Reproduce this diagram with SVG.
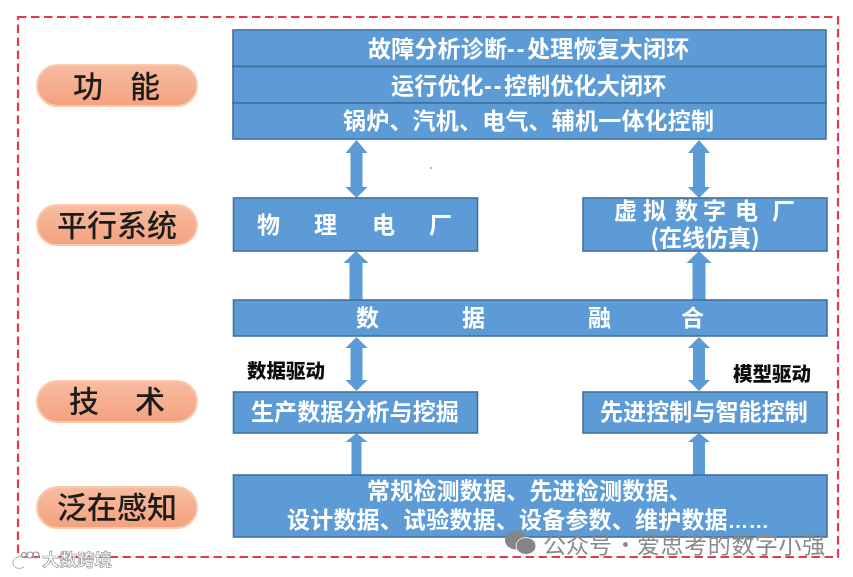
<svg xmlns="http://www.w3.org/2000/svg" width="853" height="577" viewBox="0 0 853 577">
<style>
.box{fill:#5b9bd5;stroke:#41719c;stroke-width:1.6}
.pill{fill:url(#pg);stroke:#f8cbad;stroke-width:2}
.t{font-family:"Noto Sans CJK SC","Liberation Sans",sans-serif;font-size:23px;font-weight:700;fill:#fff}
.p{font-family:"Noto Sans CJK SC",sans-serif;font-size:30px;font-weight:500;fill:#1a1a1a}
.l{font-family:"Noto Sans CJK SC",sans-serif;font-size:19.5px;font-weight:900;fill:#111}
.arr{fill:#5b9bd5}
.m{text-anchor:middle}
</style>
<defs>
<linearGradient id="pg" x1="0" y1="0" x2="0" y2="1"><stop offset="0" stop-color="#f7bca1"/><stop offset="1" stop-color="#f4a17f"/></linearGradient>
<filter id="soft" x="-5%" y="-5%" width="110%" height="110%"><feGaussianBlur stdDeviation="0.45"/></filter>
</defs>
<rect width="853" height="577" fill="#fff"/>
<g filter="url(#soft)">
<rect id="frame" x="18" y="17" width="820" height="540" fill="none" stroke="#e8384f" stroke-width="2.2" stroke-dasharray="8.500 4.500"/>
<g id="connectors">
<path class="arr" d="M356.500 140l11 13h-5v34h5l-11 11-11-11h5v-34h-5z"/>
<path class="arr" d="M699 140l11 13h-5v34h5l-11 11-11-11h5v-34h-5z"/>
<path class="arr" d="M356 251l12.500 12h-6v37h-13v-37h-6z"/>
<path class="arr" d="M699 251l12.500 12h-6v37h-13v-37h-6z"/>
<path class="arr" d="M356.500 337l11 11h-5v32h5l-11 11-11-11h5v-32h-5z"/>
<path class="arr" d="M699 337l11 11h-5v32h5l-11 11-11-11h5v-32h-5z"/>
<path class="arr" d="M356.500 433l11 9h-6v33h-10v-33h-6z"/>
<path class="arr" d="M699 433l11 9h-5v33h-12v-33h-5z"/>
</g>
<g id="pill-function"><rect class="pill" x="37" y="65" width="160" height="41" rx="20.500"/><text class="p" x="73 130" y="97">功能</text></g>
<g id="pill-parallel"><rect class="pill" x="37" y="205" width="160" height="40" rx="20"/><text class="p" x="57 87 117 147" y="236">平行系统</text></g>
<g id="pill-tech"><rect class="pill" x="37" y="381" width="160" height="41" rx="20.500"/><text class="p" x="69 135" y="412">技术</text></g>
<g id="pill-sensing"><rect class="pill" x="37" y="487" width="160" height="41" rx="20.500"/><text class="p" x="57 87 117 147" y="518">泛在感知</text></g>
<g id="node-diagnosis"><rect class="box" x="233" y="30" width="593" height="36.500"/><text class="t" y="57"><tspan x="368" letter-spacing="0.200">故障分析诊断</tspan><tspan x="507" font-family="Liberation Sans" letter-spacing="2">--</tspan><tspan x="527" letter-spacing="0.200">处理恢复大闭环</tspan></text></g>
<g id="node-optimize"><rect class="box" x="233" y="66.500" width="593" height="36.500"/><text class="t" y="94"><tspan x="391" letter-spacing="0.200">运行优化</tspan><tspan x="484" font-family="Liberation Sans" letter-spacing="2">--</tspan><tspan x="504" letter-spacing="0.200">控制优化大闭环</tspan></text></g>
<g id="node-integrated"><rect class="box" x="233" y="103" width="593" height="36"/><text class="t" x="343" y="129" letter-spacing="0.200">锅炉、汽机、电气、辅机一体化控制</text></g>
<g id="node-physical"><rect class="box" x="233.500" y="198" width="244" height="53"/><text class="t" x="257 314 372 429" y="233">物理电厂</text></g>
<g id="node-virtual"><rect class="box" x="583" y="198" width="244" height="53"/><text class="t" x="614 643 675 703 735 772" y="219">虚拟数字电厂</text><text class="t m" x="705" y="246">(在线仿真)</text></g>
<g id="node-fusion"><rect class="box" x="233.500" y="300" width="593.500" height="36"/><text class="t" x="356 462 588 681" y="326">数据融合</text></g>
<g id="node-mining"><rect class="box" x="233.500" y="392" width="244" height="41"/><text class="t" x="251" y="420" letter-spacing="0.100">生产数据分析与挖掘</text></g>
<g id="node-control"><rect class="box" x="583" y="392" width="244" height="41"/><text class="t" x="600" y="420" letter-spacing="0.100">先进控制与智能控制</text></g>
<g id="node-sensing"><rect class="box" x="233.500" y="475" width="593.500" height="62"/><text class="t" x="367" y="499" letter-spacing="0.200">常规检测数据、先进检测数据、</text><text class="t" x="287" y="528" letter-spacing="0.200">设计数据、试验数据、设备参数、维护数据<tspan font-family="Liberation Sans" font-size="20.500" font-weight="700">……</tspan></text></g>
<text id="label-data" class="l" x="247" y="378">数据驱动</text>
<text id="label-model" class="l" x="733" y="381">模型驱动</text>
<circle cx="431" cy="168" r="1" fill="#8a9aa8"/>
</g>
<g id="watermark-right" filter="url(#soft)">
<ellipse cx="516" cy="540" rx="11" ry="9.500" fill="#858585"/>
<ellipse cx="526" cy="546" rx="10" ry="8.500" fill="#858585" stroke="#e8eef4" stroke-width="1"/>
<text x="543" y="553" style="font-family:'Noto Sans CJK SC',sans-serif;font-size:23px;font-weight:400;fill:#8a8a8a">公众号<tspan x="614">·</tspan><tspan x="637" letter-spacing="0.600">爱思考的数字小强</tspan></text>
</g>
<g id="watermark-left" filter="url(#soft)">
<path d="M24 557c-7-2-12 3-11 7s6 6 11 3" fill="none" stroke="#fff" stroke-width="4"/>
<path d="M24 557c-7-2-12 3-11 7s6 6 11 3" fill="none" stroke="#aaa" stroke-width="1"/>
<g fill="none" stroke="#999" stroke-width="1.200"><circle cx="24" cy="555" r="2.500"/><circle cx="30" cy="555" r="3"/><circle cx="36" cy="555" r="3"/></g>
<text x="42" y="566" style="font-family:'Noto Sans CJK SC',sans-serif;font-size:17.500px;font-weight:700;fill:#fff;stroke:#9a9a9a;stroke-width:.7">大数跨境</text>
</g>
</svg>
